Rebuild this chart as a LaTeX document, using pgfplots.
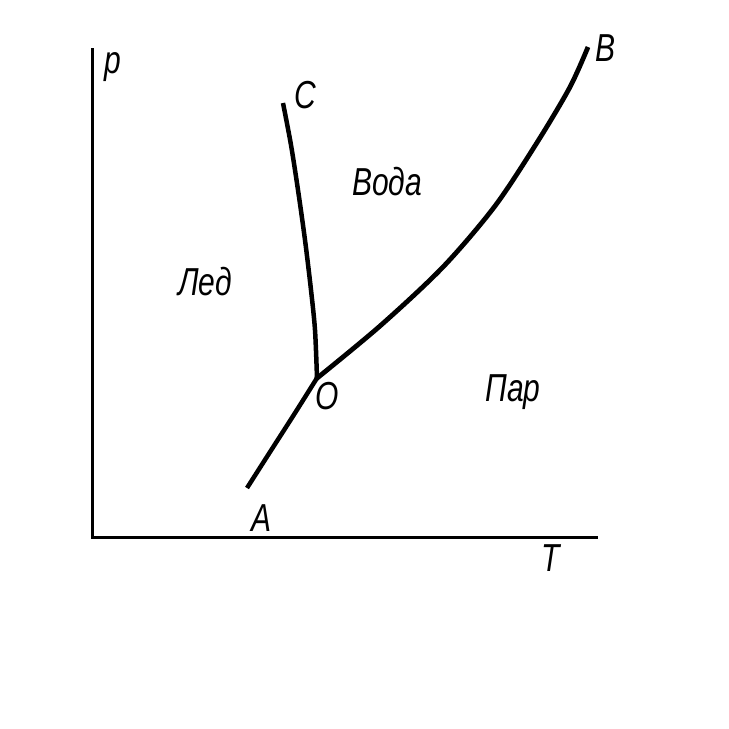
\documentclass[border=0pt]{standalone}
\usepackage{fontspec}
\setmainfont{Liberation Sans}
\usepackage{pgfplots}
\pgfplotsset{compat=1.18}
\newcommand{\lbl}[1]{\scalebox{1}[1.3]{\fontsize{30}{30}\selectfont\itshape #1}}
\begin{document}
\begin{tikzpicture}
\useasboundingbox (0,0) rectangle (729pt,729pt);
\begin{axis}[
  scale only axis, width=729pt, height=729pt,
  xmin=0, xmax=729, ymin=0, ymax=729, y dir=reverse,
  hide axis, clip=false,
]
% axes
\addplot[black, line width=3pt, no marks] coordinates {(92,48) (92,537) (598,537)};
% O-A sublimation curve
\addplot[black, line width=4.5pt, no marks, smooth] coordinates {(247,488) (270,452) (295,413) (317,378)};
% O-C melting curve
\addplot[black, line width=4.5pt, no marks, smooth] coordinates {(317,378) (315,330) (311,290) (305,240) (298,190) (291,145) (283,103)};
% O-B boiling curve
\addplot[black, line width=4.8pt, no marks, smooth] coordinates {(316,379) (380,326) (443,267) (495,206) (538,141) (570,87) (588,47)};
% labels
\node at (axis cs:113,67) {\lbl{p}};
\node at (axis cs:305,95) {\lbl{C}};
\node at (axis cs:605,48) {\lbl{В}};
\node at (axis cs:327,396) {\lbl{O}};
\node at (axis cs:262,518) {\lbl{A}};
\node at (axis cs:551,558) {\lbl{T}};
\node at (axis cs:205,282) {\lbl{Лед}};
\node at (axis cs:387,182) {\lbl{Вода}};
\node at (axis cs:513,392) {\lbl{Пар}};
\end{axis}
\end{tikzpicture}
\end{document}
